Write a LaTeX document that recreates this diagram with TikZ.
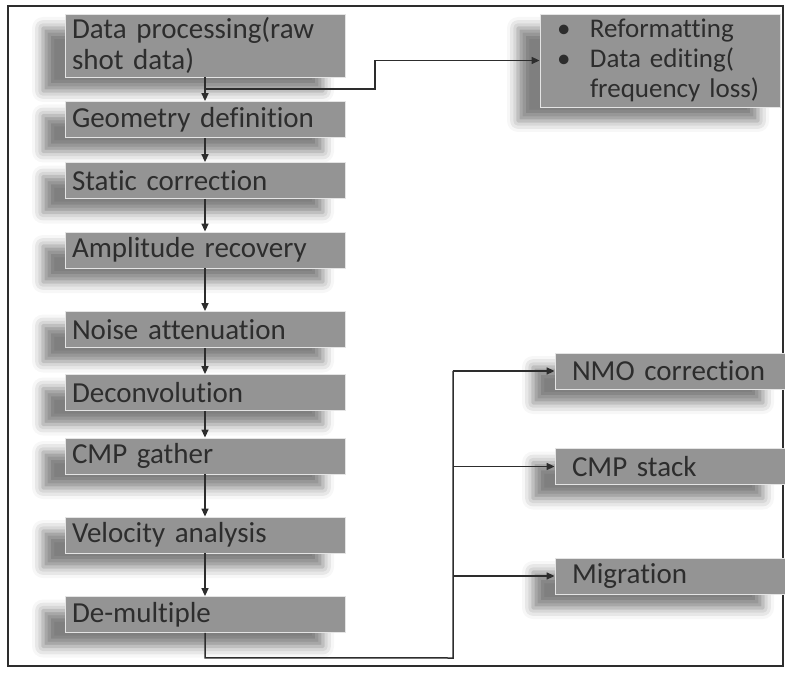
\documentclass[tikz,border=0pt]{standalone}
\usepackage{fontspec}
\setmainfont{Carlito}[Ligatures=NoCommon]
\usepackage{tikz}
\usetikzlibrary{arrows.meta,positioning,calc,shadows.blur}
\usepackage{xcolor}
\definecolor{boxgray}{RGB}{148,148,148}
\definecolor{inkgray}{RGB}{45,45,45}

\begin{document}
\begin{tikzpicture}[x=1pt, y=-1pt, >={Triangle[length=8pt,width=7pt]},
  stepbox/.style={draw=white!75!boxgray, line width=0.8pt, fill=boxgray, text=inkgray,
    minimum width=280pt, minimum height=36pt, inner xsep=7pt, inner ysep=2pt,
    align=left, text width=266pt,
    font=\fontsize{29}{31}\selectfont,
    blur shadow={shadow xshift=-22pt, shadow yshift=-14pt, shadow blur radius=11pt, shadow opacity=50}},
  sidebox/.style={stepbox, minimum width=230pt, text width=196pt, inner xsep=17pt},
  link/.style={->, line width=1.5pt, draw=inkgray}]
  \useasboundingbox (0,0) rectangle (785,676);
  \draw[line width=1.5pt, inkgray] (8,6) rectangle (783,666);
  % Main column
  \node[stepbox, minimum height=63pt] (proc) at (205,45.5) {Data processing(raw\\shot data)};
  \node[stepbox] (geom) at (205,119.5) {Geometry definition};
  \node[stepbox] (stat) at (205,180.5) {Static correction};
  \node[stepbox] (ampl) at (205,250) {Amplitude recovery};
  \node[stepbox] (noise) at (205,329.5) {Noise attenuation};
  \node[stepbox] (decon) at (205,392.5) {Deconvolution};
  \node[stepbox] (gather) at (205,456) {CMP gather};
  \node[stepbox] (velo) at (205,535) {Velocity analysis};
  \node[stepbox] (demul) at (205,614.5) {De-multiple};
  % Side boxes
  \node[sidebox, minimum width=240pt, text width=206pt, minimum height=93pt,
        font=\fontsize{27}{30}\selectfont] (reform) at (660,60.5)
    {\makebox[33pt][l]{\textbullet}Reformatting\\
     \makebox[33pt][l]{\textbullet}Data editing(\\
     \makebox[33pt][l]{}frequency loss)};
  \node[sidebox] (nmo) at (670,371) {NMO correction};
  \node[sidebox] (stack) at (670,466.5) {CMP stack};
  \node[sidebox] (migr) at (670,576) {Migration};
  % Connectors down the column
  \foreach \a/\b in {proc/geom, geom/stat, stat/ampl, ampl/noise, noise/decon,
                     decon/gather, gather/velo, velo/demul}
    \draw[link] (\a.south) -- (\b.north);
  % Branch to the editing box
  \coordinate (split) at ($(proc.south)!0.5!(geom.north)$);
  \draw[link] (split) -- ++(170,0) |- (reform.west);
  % Branches to the stack steps
  \coordinate (turn) at ($(demul.south)+(0,25)$);
  \coordinate (trunk) at (453,658);
  \draw[line width=1.5pt, inkgray] (demul.south) -- (turn) -- (trunk) -- (trunk |- nmo.west);
  \draw[link] (trunk |- nmo.west) -- (nmo.west);
  \draw[link] (trunk |- stack.west) -- (stack.west);
  \draw[link] (trunk |- migr.west) -- (migr.west);
\end{tikzpicture}
\end{document}
